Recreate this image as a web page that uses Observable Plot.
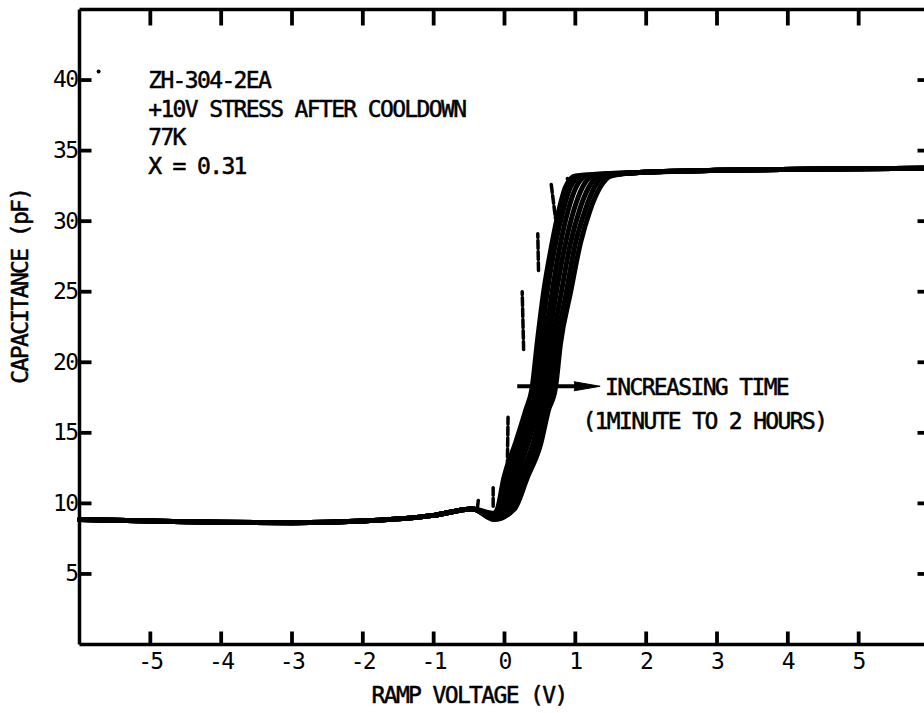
<!DOCTYPE html>
<html>
<head>
<meta charset="utf-8">
<script src="https://cdn.jsdelivr.net/npm/d3@7"></script>
<script src="https://cdn.jsdelivr.net/npm/@observablehq/plot@0.6"></script>
<style>
  html, body { margin: 0; padding: 0; background: #fff; overflow: hidden; }
</style>
</head>
<body>
<div id="chart"></div>
<script>
// ---- axes ----
const xDomain = [-6, 6];
const yDomain = [0, 45];
const xTicks = [-5, -4, -3, -2, -1, 0, 1, 2, 3, 4, 5];
const yTicks = [5, 10, 15, 20, 25, 30, 35, 40];
const xTitle = "RAMP VOLTAGE (V)";
const yTitle = "CAPACITANCE (pF)";
const xTitlePos = -0.5;
const yTitlePos = 25.4;

// ---- shared accumulation branch (all curves overlap), V and C ----
const accV = [-6, -5, -4, -3, -2, -1, -0.45];
const accC = [8.85, 8.75, 8.66, 8.63, 8.75, 9.15, 9.6];

// ---- dip at the start of the transition ----
const dipV = -0.15;
const dipC = [9.3, 9.2, 9.1, 9.05, 9.0, 8.9, 8.85];

// ---- steep transition: voltage of each curve at these capacitance levels ----
const riseC = [9.6, 11.8, 14.2, 16.6, 18.2, 21.3, 24.9, 28.4, 30.8, 32.4, 33.2];
const rise1min = [-0.10, -0.01, 0.15, 0.30, 0.39, 0.46, 0.55, 0.67, 0.77, 0.86, 1.00];
const rise2 = [-0.06, 0.04, 0.21, 0.35, 0.44, 0.51, 0.60, 0.72, 0.83, 0.93, 1.08];
const rise3 = [-0.02, 0.09, 0.27, 0.40, 0.50, 0.57, 0.67, 0.79, 0.90, 1.01, 1.16];
const rise4 = [0.02, 0.15, 0.33, 0.46, 0.55, 0.62, 0.73, 0.86, 0.98, 1.10, 1.25];
const rise5 = [0.06, 0.21, 0.40, 0.52, 0.61, 0.68, 0.80, 0.93, 1.06, 1.19, 1.34];
const rise6 = [0.10, 0.27, 0.46, 0.57, 0.67, 0.74, 0.87, 1.00, 1.14, 1.27, 1.42];
const rise2h = [0.14, 0.32, 0.51, 0.62, 0.72, 0.79, 0.93, 1.07, 1.21, 1.35, 1.50];
const riseSeries = [rise1min, rise2, rise3, rise4, rise5, rise6, rise2h];

// ---- shared inversion plateau ----
const plateauV = [1.9, 3, 4.5, 6];
const plateauC = [33.45, 33.6, 33.7, 33.75];

// ---- dashed trace segments left of the bundle ----
const dashV1 = [-0.38, -0.16, 0.04, 0.27, 0.48, 0.66];
const dashC1 = [9.75, 9.8, 12.5, 20.9, 26.5, 32.6];
const dashV2 = [-0.37, -0.16, 0.05, 0.25, 0.47, 0.72];
const dashC2 = [10.2, 11.1, 16.1, 25.0, 29.1, 30.2];
const specksV = [-5.73, 0.89];
const specksC = [40.6, 33.0];

// ---- annotations ----
const noteLines = ["ZH-304-2EA", "+10V STRESS AFTER COOLDOWN", "77K", "X = 0.31"];
const notePos = [-5.03, 40.85];
const arrowFrom = [0.18, 18.3];
const arrowTo = [1.35, 18.3];
const arrowLabels = ["INCREASING TIME", "(1MINUTE TO 2 HOURS)"];
const arrowLabelV = [1.42, 1.10];
const arrowLabelC = [18.2, 15.8];

// ---- layout ----
const W = 924, H = 713;
const M = {left: 79, right: -5, top: 9, bottom: 69};
const frameW = W - M.left - M.right;   // 850 px
const frameH = H - M.top - M.bottom;   // 635 px
// tick lengths in pixels, converted to data units through the frame size
const pxX = (xDomain[1] - xDomain[0]) / frameW;
const pxY = (yDomain[1] - yDomain[0]) / frameH;
const tickLen = {bottom: 13, top: 16, left: 12, right: 12};

// ---- build tables ----
const points = [];
riseSeries.forEach((xs, i) => {
  const series = "curve " + (i + 1);
  accV.forEach((v, j) => points.push({series, v, c: accC[j]}));
  points.push({series, v: dipV, c: dipC[i]});
  xs.forEach((v, j) => points.push({series, v, c: riseC[j]}));
  plateauV.forEach((v, j) => points.push({series, v, c: plateauC[j]}));
});
const dashes = dashV1.map((v, i) => ({x1: v, y1: dashC1[i], x2: dashV2[i], y2: dashC2[i]}));
const specks = specksV.map((v, i) => ({v, c: specksC[i]}));
const arrowText = arrowLabels.map((t, i) => ({t, v: arrowLabelV[i], c: arrowLabelC[i]}));
const tickSegs = [
  ...xTicks.map(t => ({x1: t, x2: t, y1: yDomain[0], y2: yDomain[0] + tickLen.bottom * pxY})),
  ...xTicks.map(t => ({x1: t, x2: t, y1: yDomain[1], y2: yDomain[1] - tickLen.top * pxY})),
  ...yTicks.map(t => ({y1: t, y2: t, x1: xDomain[0], x2: xDomain[0] + tickLen.left * pxX})),
  ...yTicks.map(t => ({y1: t, y2: t, x1: xDomain[1], x2: xDomain[1] - tickLen.right * pxX}))
];

const font = "'DejaVu Sans Mono', 'Liberation Mono', monospace";
const txt = {fontSize: 23, fill: "#000", stroke: "#000", strokeWidth: 0.5};

const chart = Plot.plot({
  width: W,
  height: H,
  marginLeft: M.left,
  marginRight: M.right,
  marginTop: M.top,
  marginBottom: M.bottom,
  x: {domain: xDomain},
  y: {domain: yDomain},
  style: {fontFamily: font, fontSize: "23px", letterSpacing: "-1.65px", background: "#fff", color: "#000", overflow: "hidden"},
  marks: [
    Plot.line(points, {x: "v", y: "c", z: "series", stroke: "#000", strokeWidth: 5,
      curve: "monotone-x", strokeLinejoin: "round", strokeLinecap: "round"}),
    Plot.link(dashes, {x1: "x1", y1: "y1", x2: "x2", y2: "y2", stroke: "#000", strokeWidth: 3.5,
      strokeDasharray: "8,3", strokeLinecap: "round"}),
    Plot.dot(specks, {x: "v", y: "c", r: 2, fill: "#000", stroke: "none"}),
    // frame
    Plot.link([xDomain[0], xDomain[1]], {x1: d => d, x2: d => d, y1: yDomain[0], y2: yDomain[1], stroke: "#000", strokeWidth: 3.5}),
    Plot.link([yDomain[0], yDomain[1]], {y1: d => d, y2: d => d, x1: xDomain[0], x2: xDomain[1], stroke: "#000", strokeWidth: 3.5}),
    // tick labels
    Plot.axisX(xTicks, {anchor: "bottom", tickSize: 0, tickPadding: 8, tickFormat: d => String(d),
      label: null, ...txt}),
    Plot.axisY(yTicks, {anchor: "left", tickSize: 0, tickPadding: 2, tickFormat: d => String(d),
      label: null, ...txt}),
    // titles
    Plot.text([xTitle], {text: d => d, x: xTitlePos, frameAnchor: "bottom", dy: 42, lineAnchor: "top",
      textAnchor: "middle", ...txt}),
    Plot.text([yTitle], {text: d => d, y: yTitlePos, frameAnchor: "left", dx: -59, rotate: -90,
      textAnchor: "middle", ...txt}),
    // annotation block
    Plot.text([noteLines.join("\n")], {text: d => d, x: notePos[0], y: notePos[1], textAnchor: "start",
      lineAnchor: "top", lineHeight: 1.24, ...txt}),
    // arrow
    Plot.link([0], {x1: arrowFrom[0], y1: arrowFrom[1], x2: arrowTo[0] - 0.25, y2: arrowTo[1],
      stroke: "#000", strokeWidth: 4}),
    Plot.vector([0], {x: arrowTo[0], y: arrowTo[1], length: 26, r: 4.5, rotate: 90, shape: "spike",
      anchor: "end", fill: "#000", stroke: "#000", strokeWidth: 1}),
    Plot.text(arrowText, {text: "t", x: "v", y: "c", textAnchor: "start", lineAnchor: "middle", ...txt}),
    // inward ticks, drawn last
    Plot.link(tickSegs, {x1: "x1", y1: "y1", x2: "x2", y2: "y2", stroke: "#000", strokeWidth: 3.8})
  ]
});
document.getElementById("chart").appendChild(chart);
</script>
</body>
</html>
